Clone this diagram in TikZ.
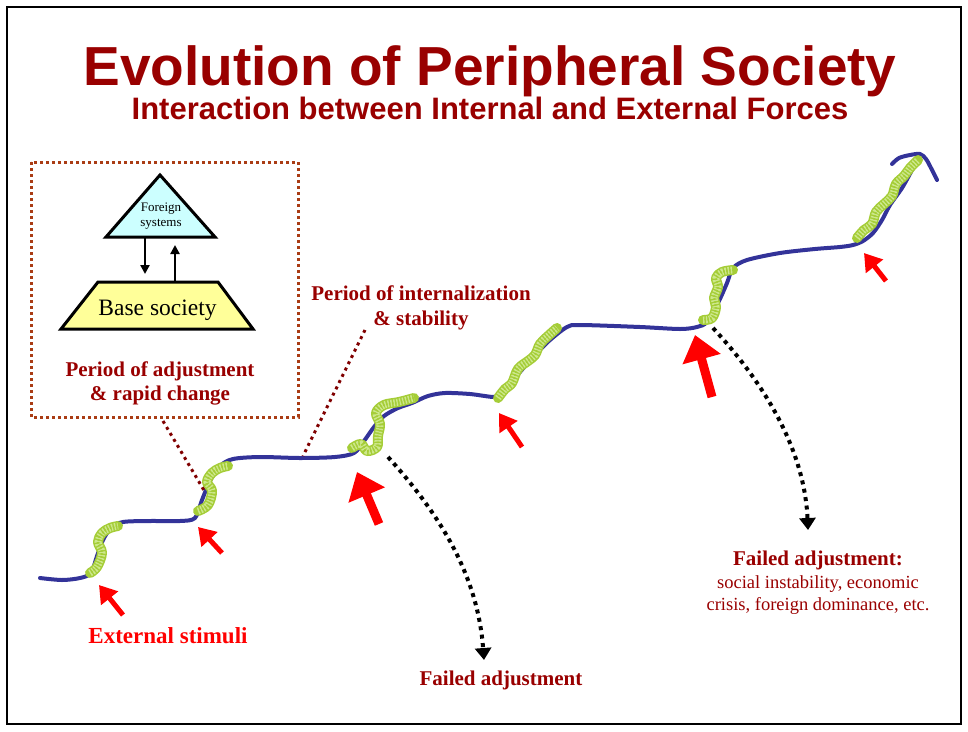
\documentclass[tikz,border=0pt]{standalone}
\usepackage{fontspec}
\setmainfont{Liberation Serif}
\newfontfamily\headfont{Liberation Sans}
\usetikzlibrary{arrows.meta}

\definecolor{titlered}{RGB}{153,0,0}
\definecolor{stimred}{RGB}{255,0,0}
\definecolor{pathblue}{RGB}{51,51,153}
\definecolor{wiggle}{RGB}{165,205,55}
\definecolor{wigglelight}{RGB}{205,232,140}
\definecolor{boxbrown}{RGB}{170,60,20}
\definecolor{leaderred}{RGB}{128,0,0}
\definecolor{foreigncyan}{RGB}{204,255,255}
\definecolor{baseyellow}{RGB}{255,255,153}

\tikzset{
  trend/.style={pathblue, line width=4pt, line cap=round, line join=round},
  wiggleband/.style={wiggle, line width=10pt, line cap=round, line join=round},
  wiggledots/.style={wigglelight, line width=7pt, dash pattern=on 1.5pt off 1.5pt},
  wigglecross/.style={wiggle, line width=2pt, dash pattern=on 1.5pt off 1.5pt, dash phase=1.5pt},
  stimsmall/.style={stimred, line width=5pt, -{Triangle[length=17pt,width=21pt]}},
  stimbig/.style={stimred, line width=9pt, -{Triangle[length=25pt,width=38pt]}},
  failpath/.style={black, line width=4pt, dash pattern=on 4pt off 4.5pt, -{Triangle[length=12pt,width=16pt]}},
  leader/.style={leaderred, line width=3pt, dash pattern=on 3pt off 4pt},
  insetframe/.style={boxbrown, line width=3pt, dash pattern=on 3pt off 3pt},
  shapeline/.style={black, line width=3pt, line join=miter},
  flowarrow/.style={black, line width=2.5pt, -{Triangle[length=9pt,width=9pt]}},
  lbl/.style={text=titlered, font=\fontsize{21}{25}\selectfont\bfseries, anchor=base, inner sep=0pt},
  note/.style={text=titlered, font=\fontsize{18.5}{22}\selectfont, anchor=base, inner sep=0pt},
}

\newcommand\wiggleseg[1]{%
  \draw[wiggleband] plot[smooth, tension=0.6] coordinates {#1};
  \draw[wiggledots] plot[smooth, tension=0.6] coordinates {#1};
  \draw[wigglecross] plot[smooth, tension=0.6] coordinates {#1};}

\begin{document}
\begin{tikzpicture}[x=1pt, y=-1pt]
\useasboundingbox (0,0) rectangle (968,731);
\draw[black, line width=1.8pt] (7,7) rectangle (961,724);

% headings
\node[anchor=base, inner sep=0pt, text=titlered, font=\headfont\bfseries\fontsize{55}{60}\selectfont] (title) at (490,85) {Evolution of Peripheral Society};
\node[anchor=base, inner sep=0pt, text=titlered, font=\headfont\bfseries\fontsize{31}{36}\selectfont] (subtitle) at (490,119) {Interaction between Internal and External Forces};

% inset: foreign systems over base society
\draw[insetframe] (31,162) rectangle (298,417);
\draw[shapeline, fill=foreigncyan] (160,175) -- (215,237) -- (106,237) -- cycle;
\draw[shapeline, fill=baseyellow] (98,282) -- (218,282) -- (253,329) -- (61,329) -- cycle;
\node[anchor=base, inner sep=0pt, font=\fontsize{13}{15}\selectfont] (foreign1) at (161,211.5) {Foreign};
\node[anchor=base, inner sep=0pt, font=\fontsize{13}{15}\selectfont] (foreign2) at (161,226) {systems};
\node[anchor=base, inner sep=0pt, font=\fontsize{23.5}{27}\selectfont] (base) at (157.5,315.5) {Base society};
\coordinate (downtop) at (145,237);
\coordinate (downbot) at (145,274);
\coordinate (uptop) at (175,245);
\coordinate (upbot) at (175,282);
\draw[flowarrow] (downtop) -- (downbot);
\draw[flowarrow] (upbot) -- (uptop);
\node[lbl] (adjust1) at (160,376.5) {Period of adjustment};
\node[lbl] (adjust2) at (160,400.5) {\& rapid change};

% the course of the society
\draw[trend] plot[smooth, tension=0.5] coordinates {
  (40,578) (62,580) (80,578) (91,573) (97,556) (103,540) (111,528) (123,522)
  (150,521) (180,521) (195,518) (202,500) (210,481) (220,466) (233,459)
  (260,457) (300,458) (335,457) (354,453) (364,441) (374,427) (384,416)
  (398,408) (412,403) (428,396) (445,393) (470,394) (495,397) (503,392)
  (520,372) (537,353) (550,340) (567,327) (580,325) (640,327) (680,329)
  (697,327) (707,322) (718,303) (727,283) (733,268) (747,260) (780,253)
  (815,249) (840,247) (853,245) (863,241) (873,233) (882,220) (890,205)
  (902,188) (912,170) (919,156)};
\draw[trend] plot[smooth, tension=0.5] coordinates {
  (892,164) (899,158) (910,155) (920,154) (926,159) (931,168) (937,180)};

% periods of adjustment
\wiggleseg{(90,573) (97,567) (102,553) (98,542) (102,533) (110,528) (118,526)}
\wiggleseg{(198,511) (208,505) (212,491) (207,482) (212,473) (220,468) (228,466)}
\wiggleseg{(352,448) (361,444) (367,451) (377,447) (378,436) (380,424) (376,413) (384,405) (399,402) (414,398)}
\wiggleseg{(498,398) (505,389) (512,383) (518,369) (528,361) (535,355) (540,344) (548,336) (557,328)}
\wiggleseg{(703,320) (712,318) (716,307) (714,298) (718,287) (716,278) (722,272) (733,270)}
\wiggleseg{(857,238) (864,230) (872,224) (876,212) (884,204) (892,196) (896,184) (904,176) (910,168) (918,160)}

% external stimuli
\coordinate (s1tail) at (123,615); \coordinate (s1tip) at (99,585);
\coordinate (s2tail) at (222,553); \coordinate (s2tip) at (198,527);
\coordinate (s3tail) at (522,447); \coordinate (s3tip) at (499,413);
\coordinate (s4tail) at (886,281); \coordinate (s4tip) at (864,253);
\coordinate (b1tail) at (379,524); \coordinate (b1tip) at (357,472);
\coordinate (b2tail) at (712,397); \coordinate (b2tip) at (695,335);
\draw[stimsmall] (s1tail) -- (s1tip);
\draw[stimsmall] (s2tail) -- (s2tip);
\draw[stimsmall] (s3tail) -- (s3tip);
\draw[stimsmall] (s4tail) -- (s4tip);
\draw[stimbig] (b1tail) -- (b1tip);
\draw[stimbig] (b2tail) -- (b2tip);

% failed adjustments
\coordinate (f1start) at (388,457); \coordinate (f1end) at (484,660);
\coordinate (f2start) at (713,328); \coordinate (f2end) at (808,530);
\draw[failpath] (f1start) .. controls (445,520) and (478,580) .. (f1end);
\draw[failpath] (f2start) .. controls (775,395) and (805,460) .. (f2end);

% labels and leaders
\node[lbl] (intern1) at (421,300) {Period of internalization};
\node[lbl] (intern2) at (421,325) {\& stability};
\coordinate (internpt) at (303,456);
\coordinate (internfoot) at (365,330);
\draw[leader] (internfoot) -- (internpt);
\coordinate (insetfoot) at (163,421);
\coordinate (adjustpt) at (205,492);
\draw[leader] (insetfoot) -- (adjustpt);

\node[anchor=base, inner sep=0pt, text=stimred, font=\fontsize{23}{27}\selectfont\bfseries] (stimuli) at (168,643) {External stimuli};
\node[lbl] (fail1) at (501,685) {Failed adjustment};
\node[lbl] (fail2) at (818,565) {Failed adjustment:};
\node[note] (fail2a) at (818,588) {social instability, economic};
\node[note] (fail2b) at (818,610.5) {crisis, foreign dominance, etc.};
\end{tikzpicture}
\end{document}
